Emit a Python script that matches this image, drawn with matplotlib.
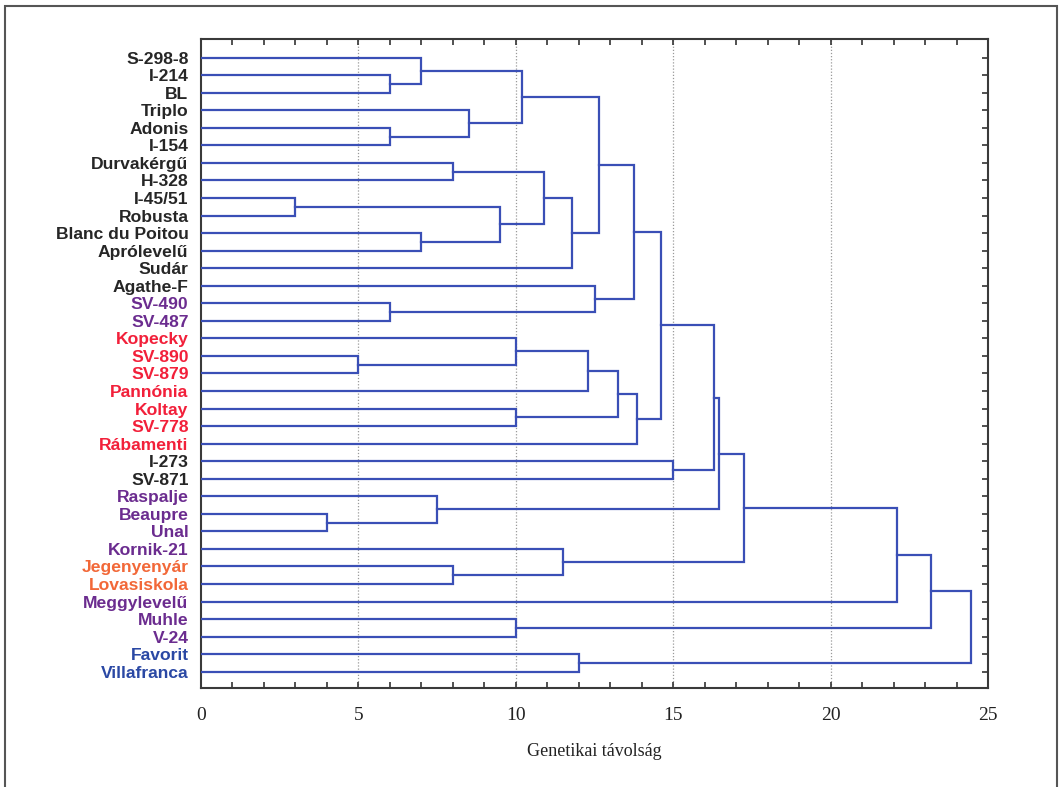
import numpy as np
import matplotlib.pyplot as plt
from matplotlib.patches import Rectangle

# leaves, top to bottom
leaves = ["S-298-8", "I-214", "BL", "Triplo", "Adonis", "I-154", "Durvakérgű",
          "H-328", "I-45/51", "Robusta", "Blanc du Poitou", "Aprólevelű", "Sudár",
          "Agathe-F", "SV-490", "SV-487", "Kopecky", "SV-890", "SV-879", "Pannónia",
          "Koltay", "SV-778", "Rábamenti", "I-273", "SV-871", "Raspalje", "Beaupre",
          "Unal", "Kornik-21", "Jegenyenyár", "Lovasiskola", "Meggylevelű", "Muhle",
          "V-24", "Favorit", "Villafranca"]

# label colour group per leaf: k=black, p=purple, r=red, o=orange, b=blue
groups = list("kkkkkkkkkkkkkkpprrrrrrrkkppppoopppbb")
group_colors = {"k": "#262626", "p": "#6b2c8f", "r": "#f2203a",
                "o": "#f26838", "b": "#2a48a4"}

# merges: node ids 0..35 are leaves, each merge gets id 36 + row index
merge_a = [1, 0, 4, 3, 37, 6, 8, 10, 42, 41, 45, 40, 14, 13, 47, 17, 16, 52,
           20, 53, 55, 50, 23, 57, 26, 25, 59, 29, 28, 62, 65, 32, 66, 34, 68]
merge_b = [2, 36, 5, 38, 39, 7, 9, 11, 43, 44, 12, 46, 15, 48, 49, 18, 51, 19,
           21, 54, 22, 56, 24, 58, 27, 60, 61, 30, 63, 64, 31, 33, 67, 35, 69]
merge_h = [6.0, 7.0, 6.0, 8.5, 10.2, 8.0, 3.0, 7.0, 9.5, 10.9, 11.8, 12.65,
           6.0, 12.5, 13.75, 5.0, 10.0, 12.3, 10.0, 13.25, 13.85, 14.6, 15.0,
           16.3, 4.0, 7.5, 16.45, 8.0, 11.5, 17.25, 22.1, 10.0, 23.2, 12.0, 24.45]

n = len(leaves)
ypos = list(range(n))
height = [0.0] * n
for a, b, h in zip(merge_a, merge_b, merge_h):
    ypos.append((ypos[a] + ypos[b]) / 2)
    height.append(h)

fig = plt.figure(figsize=(10.62, 7.87), dpi=100)
ax = fig.add_axes([201 / 1062, 1 - 688 / 787, (988 - 201) / 1062, (688 - 39) / 787])

line_col = "#3a4fb6"
for a, b, h in zip(merge_a, merge_b, merge_h):
    ax.plot([height[a], h, h, height[b]], [ypos[a], ypos[a], ypos[b], ypos[b]],
            color=line_col, lw=1.6, solid_joinstyle="miter", zorder=3)

# dotted grid at major ticks
for gx in [5, 10, 15, 20]:
    ax.axvline(gx, color="#9a9a9a", lw=0.9, ls=(0, (1, 1.5)), zorder=1)

ax.set_xlim(0, 25)
ax.set_ylim(n - 1 + 0.93, -1.06)

ax.set_xticks(range(0, 26, 5))
ax.set_xticks(range(0, 26), minor=True)
ax.tick_params(axis="x", which="both", direction="in", top=True, length=4,
               width=1.2, color="#333333", pad=14)
ax.tick_params(axis="x", which="major", labelsize=14, labelcolor="#222222")
for t in ax.get_xticklabels():
    t.set_family("Liberation Serif")

ax.set_yticks(range(n))
ax.set_yticklabels(leaves, fontsize=12.6, fontweight="bold", family="Liberation Sans")
for t, g in zip(ax.get_yticklabels(), groups):
    t.set_color(group_colors[g])
ax.tick_params(axis="y", left=False, right=True, direction="in", length=4,
               width=1.2, color="#333333", pad=9)

for s in ax.spines.values():
    s.set_color("#3a3a3a")
    s.set_linewidth(1.5)

ax.set_xlabel("Genetikai távolság", family="Liberation Serif", fontsize=13,
              color="#222222", labelpad=13)

# outer picture border
fig.add_artist(Rectangle((5 / 1062, -0.02), (1057 - 5) / 1062, 1 - 6 / 787 + 0.02,
                         transform=fig.transFigure, fill=False,
                         edgecolor="#555555", lw=1.5))

fig.savefig("out.png", dpi=100)
